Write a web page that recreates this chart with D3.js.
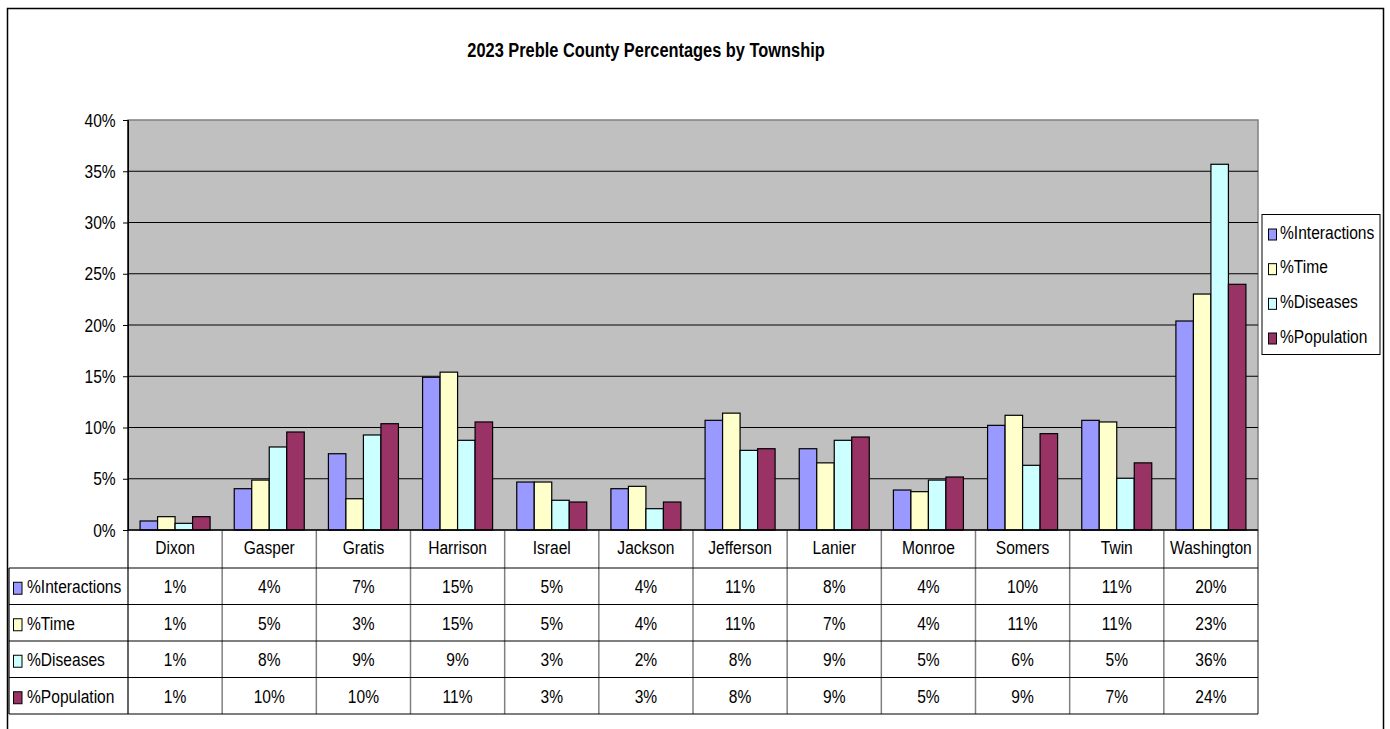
<!DOCTYPE html>
<html>
<head>
<meta charset="utf-8">
<script src="https://cdn.jsdelivr.net/npm/d3@7"></script>
<style>
  body { margin: 0; background: #fff; }
  text { font-family: "Liberation Sans", Arial, sans-serif; fill: #000; }
</style>
</head>
<body>
<div id="chart"></div>
<script>
const townships = ["Dixon", "Gasper", "Gratis", "Harrison", "Israel", "Jackson",
  "Jefferson", "Lanier", "Monroe", "Somers", "Twin", "Washington"];
const interactions = [0.0088, 0.0403, 0.0744, 0.149, 0.0468, 0.0403, 0.107, 0.0793, 0.039, 0.1021, 0.107, 0.2039];
const time = [0.013, 0.0487, 0.0305, 0.154, 0.0468, 0.0426, 0.114, 0.0655, 0.0374, 0.1119, 0.1054, 0.2302];
const diseases = [0.0065, 0.081, 0.0927, 0.0875, 0.029, 0.0208, 0.0777, 0.0875, 0.0487, 0.0631, 0.0505, 0.3568];
const population = [0.013, 0.0956, 0.1037, 0.1054, 0.0273, 0.0273, 0.0793, 0.0907, 0.0517, 0.094, 0.0655, 0.2397];
const seriesNames = ["%Interactions", "%Time", "%Diseases", "%Population"];
const seriesColors = ["#9999FF", "#FFFFCC", "#CCFFFF", "#993366"];
const yTicks = [0, 0.05, 0.1, 0.15, 0.2, 0.25, 0.3, 0.35, 0.4];
const title = "2023 Preble County Percentages by Township";

const series = [interactions, time, diseases, population];
const SX = 0.82; // narrow text, like the original

const W = 1390, H = 729;
const plot = { left: 128, right: 1258, top: 120, bottom: 530 };
const tableBottom = 714, catRowBottom = 568, tableLeft = 9;

const svg = d3.select("#chart").append("svg")
  .attr("width", W).attr("height", H);

// outer frame
svg.append("rect")
  .attr("x", 7.5).attr("y", 8.5).attr("width", 1376).attr("height", 740)
  .attr("fill", "#fff").attr("stroke", "#000").attr("stroke-width", 1.5);

const label = (g, x, y, str, anchor, size, weight, sx) =>
  g.append("text")
    .attr("transform", `translate(${x},${y}) scale(${sx || SX},1)`)
    .attr("text-anchor", anchor)
    .attr("font-size", size || 19)
    .attr("font-weight", weight || "normal")
    .text(str);

label(svg, 646, 57, title, "middle", 21, "bold", 0.78);

const x = d3.scaleBand().domain(townships).range([plot.left, plot.right]);
const xs = d3.scaleBand().domain(seriesNames).range([0, x.bandwidth()]).paddingOuter(0.69);
const y = d3.scaleLinear().domain([0, 0.4]).range([plot.bottom, plot.top]);
const rows = d3.scaleBand().domain(seriesNames).range([catRowBottom, tableBottom]);
const fmt = d3.format(".0%");

// plot background
svg.append("rect")
  .attr("x", plot.left).attr("y", plot.top)
  .attr("width", plot.right - plot.left).attr("height", plot.bottom - plot.top)
  .attr("fill", "#C0C0C0").attr("stroke", "#808080").attr("stroke-width", 1.5);

// gridlines
svg.append("g").selectAll("line")
  .data(yTicks.filter(d => d > 0 && d < 0.4))
  .join("line")
  .attr("x1", plot.left).attr("x2", plot.right)
  .attr("y1", d => y(d)).attr("y2", d => y(d))
  .attr("stroke", "#000").attr("stroke-width", 1);

// y axis
const yAxis = svg.append("g")
  .attr("transform", `translate(${plot.left},0)`)
  .call(d3.axisLeft(y).tickValues(yTicks).tickFormat(fmt).tickSize(5).tickSizeOuter(0));
yAxis.select(".domain").attr("stroke", "#000");
yAxis.selectAll("text")
  .attr("x", -15)
  .attr("transform", `scale(${SX},1)`)
  .attr("font-size", 19)
  .attr("font-family", "Liberation Sans, Arial, sans-serif");

// bars
const groups = svg.append("g").selectAll("g")
  .data(townships)
  .join("g")
  .attr("transform", d => `translate(${x(d)},0)`);

groups.selectAll("rect")
  .data((t, i) => series.map((s, k) => ({ name: seriesNames[k], value: s[i], color: seriesColors[k] })))
  .join("rect")
  .attr("x", d => xs(d.name))
  .attr("width", xs.bandwidth())
  .attr("y", d => y(d.value))
  .attr("height", d => y(0) - y(d.value))
  .attr("fill", d => d.color)
  .attr("stroke", "#000")
  .attr("stroke-width", 1.2);

// data table
const table = svg.append("g");
// category separators
table.selectAll("line.sep")
  .data(townships.slice(1))
  .join("line")
  .attr("class", "sep")
  .attr("x1", d => x(d)).attr("x2", d => x(d))
  .attr("y1", plot.bottom).attr("y2", tableBottom)
  .attr("stroke", "#808080").attr("stroke-width", 1.5);
table.append("line")
  .attr("x1", plot.right).attr("x2", plot.right)
  .attr("y1", plot.bottom).attr("y2", tableBottom)
  .attr("stroke", "#606060").attr("stroke-width", 1.5);
table.append("line")
  .attr("x1", plot.left).attr("x2", plot.left)
  .attr("y1", plot.top).attr("y2", tableBottom)
  .attr("stroke", "#000").attr("stroke-width", 1.2);
table.append("line")
  .attr("x1", tableLeft).attr("x2", tableLeft)
  .attr("y1", catRowBottom).attr("y2", tableBottom)
  .attr("stroke", "#000").attr("stroke-width", 1.2);
// horizontal rules
table.append("line")
  .attr("x1", plot.left).attr("x2", plot.right)
  .attr("y1", plot.bottom).attr("y2", plot.bottom)
  .attr("stroke", "#000").attr("stroke-width", 1.5);
table.selectAll("line.row")
  .data(seriesNames)
  .join("line")
  .attr("class", "row")
  .attr("x1", tableLeft).attr("x2", plot.right)
  .attr("y1", d => rows(d)).attr("y2", d => rows(d))
  .attr("stroke", "#000").attr("stroke-width", 1.2);
table.append("line")
  .attr("x1", tableLeft).attr("x2", plot.right)
  .attr("y1", tableBottom).attr("y2", tableBottom)
  .attr("stroke", "#000").attr("stroke-width", 1.2);

// category labels
townships.forEach(t => label(table, x(t) + x.bandwidth() / 2, 554, t, "middle"));

// row headers and values
seriesNames.forEach((name, k) => {
  const base = rows(name) + rows.bandwidth() / 2 + 7;
  table.append("rect")
    .attr("x", 13.5).attr("y", base - 11).attr("width", 8.5).attr("height", 12)
    .attr("fill", seriesColors[k]).attr("stroke", "#000").attr("stroke-width", 1);
  label(table, 27, base, name, "start");
  townships.forEach((t, i) => {
    label(table, x(t) + x.bandwidth() / 2, base, fmt(series[k][i]), "middle");
  });
});

// legend
const legend = svg.append("g");
legend.append("rect")
  .attr("x", 1262).attr("y", 214.5).attr("width", 118).attr("height", 140)
  .attr("fill", "#fff").attr("stroke", "#000").attr("stroke-width", 1);
const ly = d3.scalePoint().domain(seriesNames).range([238.5, 342.5]);
seriesNames.forEach((name, k) => {
  legend.append("rect")
    .attr("x", 1268.5).attr("y", ly(name) - 9.5).attr("width", 8).attr("height", 11)
    .attr("fill", seriesColors[k]).attr("stroke", "#000").attr("stroke-width", 1);
  label(legend, 1280, ly(name), name, "start");
});
</script>
</body>
</html>
